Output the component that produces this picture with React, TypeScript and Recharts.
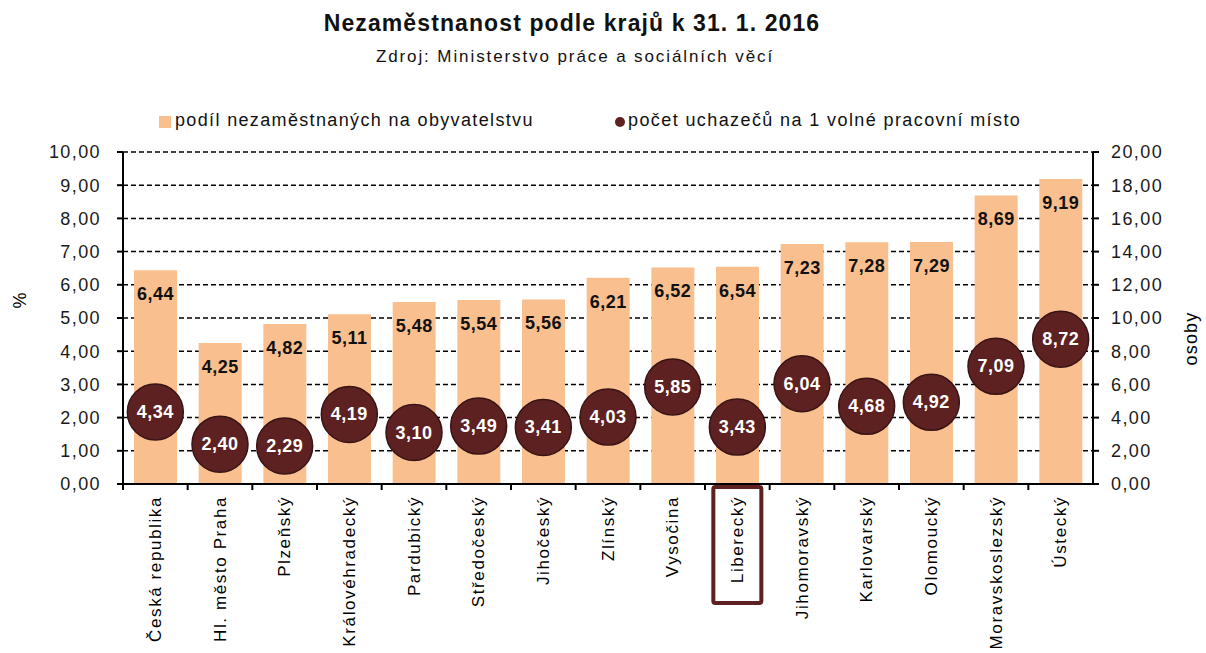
import React from "react";
import {
  ComposedChart,
  Bar,
  Scatter,
  XAxis,
  YAxis,
  CartesianGrid,
  LabelList,
} from "recharts";

// Nezaměstnanost podle krajů k 31. 1. 2016

const regions = [
  "Česká republika",
  "Hl. město Praha",
  "Plzeňský",
  "Královéhradecký",
  "Pardubický",
  "Středočeský",
  "Jihočeský",
  "Zlínský",
  "Vysočina",
  "Liberecký",
  "Jihomoravský",
  "Karlovarský",
  "Olomoucký",
  "Moravskoslezský",
  "Ústecký",
];

// podíl nezaměstnaných na obyvatelstvu (%)
const podil = [6.44, 4.25, 4.82, 5.11, 5.48, 5.54, 5.56, 6.21, 6.52, 6.54, 7.23, 7.28, 7.29, 8.69, 9.19];
// počet uchazečů na 1 volné pracovní místo (osoby)
const uchazeci = [4.34, 2.4, 2.29, 4.19, 3.1, 3.49, 3.41, 4.03, 5.85, 3.43, 6.04, 4.68, 4.92, 7.09, 8.72];

const leftTicks = [0, 1, 2, 3, 4, 5, 6, 7, 8, 9, 10];
const rightTicks = [0, 2, 4, 6, 8, 10, 12, 14, 16, 18, 20];

const HIGHLIGHT = "Liberecký";

const COLORS = {
  bar: "#F9BF8F",
  dot: "#5E2121",
  dotStroke: "#3A1414",
  text: "#1a1a1a",
};

const W = 1206;
const H = 653;
const MARGIN = { top: 152, right: 43, bottom: 9, left: 53 };
const Y_W = 70;
const X_H = 160;
const FONT = "'Liberation Sans', Arial, sans-serif";

const data = regions.map((name, i) => ({ name, podil: podil[i], uchazeci: uchazeci[i] }));

const fmt = (v: number) => v.toFixed(2).replace(".", ",");

const plotW = W - MARGIN.left - MARGIN.right - 2 * Y_W;
const step = plotW / regions.length;

function RegionTick(props: any) {
  const { x, y, payload } = props;
  const label = payload.value as string;
  return (
    <g>
      <line x1={x - step / 2} y1={y} x2={x - step / 2} y2={y + 6} stroke="#000" strokeWidth={2} />
      {label === HIGHLIGHT && (
        <rect x={x - 24} y={y + 3} width={48} height={116} rx={2} fill="none" stroke={COLORS.dot} strokeWidth={4} />
      )}
      <text
        transform={`translate(${x},${y + 12}) rotate(-90)`}
        textAnchor="end"
        dominantBaseline="central"
        fontSize={17}
        fontFamily={FONT}
        fill="#000"
        style={{ letterSpacing: "1.6px" }}
      >
        {label}
      </text>
    </g>
  );
}

function Dot(props: any) {
  const { cx, cy, payload } = props;
  return (
    <g>
      <circle cx={cx} cy={cy} r={28} fill={COLORS.dot} stroke={COLORS.dotStroke} strokeWidth={1.5} />
      <text
        x={cx}
        y={cy}
        textAnchor="middle"
        dominantBaseline="central"
        fill="#fff"
        fontSize={18}
        fontWeight="bold"
        fontFamily={FONT}
        style={{ letterSpacing: "0.5px" }}
      >
        {fmt(payload.uchazeci)}
      </text>
    </g>
  );
}

export default function App() {
  const tickStyle = { fontSize: 18, fontFamily: FONT, fill: COLORS.text, style: { letterSpacing: "1.4px" } };
  return (
    <div style={{ position: "absolute", left: 0, top: 0, width: W, height: H, background: "#fff" }}>
      <div
        style={{
          position: "absolute",
          left: 0,
          width: 1144,
          top: 10,
          textAlign: "center",
          fontFamily: FONT,
          fontWeight: "bold",
          fontSize: 23,
          letterSpacing: "1.1px",
          color: "#111",
        }}
      >
        Nezaměstnanost podle krajů k 31. 1. 2016
      </div>
      <div
        style={{
          position: "absolute",
          left: 0,
          width: 1150,
          top: 47,
          textAlign: "center",
          fontFamily: FONT,
          fontSize: 17,
          letterSpacing: "1.9px",
          color: "#111",
        }}
      >
        Zdroj: Ministerstvo práce a sociálních věcí
      </div>
      <div
        style={{
          position: "absolute",
          left: 159,
          top: 110,
          width: 900,
          height: 28,
          fontFamily: FONT,
          fontSize: 18,
          color: "#111",
        }}
      >
        <span style={{ position: "absolute", left: 0, top: 6, width: 12, height: 12, background: COLORS.bar }} />
        <span style={{ position: "absolute", left: 16, top: 0, letterSpacing: "1.35px" }}>
          podíl nezaměstnaných na obyvatelstvu
        </span>
        <span
          style={{ position: "absolute", left: 456, top: 7, width: 10, height: 10, borderRadius: 5, background: COLORS.dot }}
        />
        <span style={{ position: "absolute", left: 469, top: 0, letterSpacing: "1.4px" }}>
          počet uchazečů na 1 volné pracovní místo
        </span>
      </div>
      <div
        style={{
          position: "absolute",
          left: 12,
          top: 290,
          fontFamily: FONT,
          fontSize: 18,
          transform: "rotate(-90deg)",
        }}
      >
        %
      </div>
      <div
        style={{
          position: "absolute",
          left: 1164,
          top: 328,
          fontFamily: FONT,
          fontSize: 18,
          letterSpacing: "1.2px",
          transform: "rotate(-90deg)",
        }}
      >
        osoby
      </div>
      <ComposedChart
        width={W}
        height={H}
        data={data}
        margin={MARGIN}
        barCategoryGap="17%"
        style={{ position: "absolute", left: 0, top: 0 }}
      >
        <CartesianGrid yAxisId="left" vertical={false} stroke="#000" strokeDasharray="5 3" strokeWidth={1.5} />
        <XAxis
          dataKey="name"
          height={X_H}
          interval={0}
          tickLine={false}
          tickSize={0}
          tickMargin={0}
          axisLine={{ stroke: "#000", strokeWidth: 2 }}
          tick={<RegionTick />}
        />
        <YAxis
          yAxisId="left"
          width={Y_W}
          domain={[0, 10]}
          ticks={leftTicks}
          tickFormatter={fmt}
          axisLine={{ stroke: "#000", strokeWidth: 2 }}
          tickLine={{ stroke: "#000", strokeWidth: 2 }}
          tickSize={6}
          tickMargin={16}
          tick={tickStyle}
        />
        <YAxis
          yAxisId="right"
          orientation="right"
          width={Y_W}
          domain={[0, 20]}
          ticks={rightTicks}
          tickFormatter={fmt}
          axisLine={{ stroke: "#000", strokeWidth: 2 }}
          tickLine={{ stroke: "#000", strokeWidth: 2 }}
          tickSize={6}
          tickMargin={12}
          tick={{ ...tickStyle, textAnchor: "start" }}
        />
        <Bar yAxisId="left" dataKey="podil" fill={COLORS.bar} isAnimationActive={false}>
          <LabelList
            dataKey="podil"
            position="insideTop"
            offset={17}
            formatter={(v: any) => fmt(Number(v))}
            style={{ fontSize: 18, fontWeight: "bold", fontFamily: FONT, fill: "#111", letterSpacing: "0.5px" }}
          />
        </Bar>
        <Scatter yAxisId="right" dataKey="uchazeci" shape={<Dot />} isAnimationActive={false} />
      </ComposedChart>
    </div>
  );
}
